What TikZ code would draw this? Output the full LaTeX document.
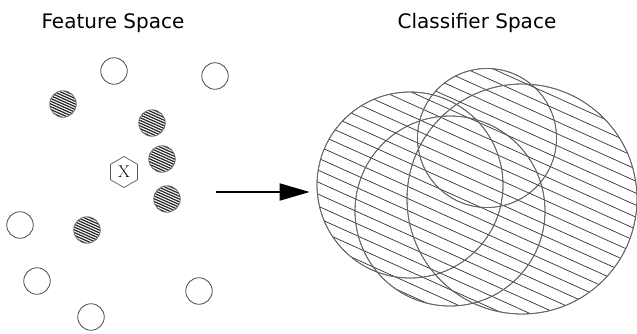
\documentclass[tikz,border=0pt]{standalone}
\usepackage{fontspec}
\setsansfont{DejaVu Sans}
\usetikzlibrary{arrows.meta,shapes.geometric}
\begin{document}
\begin{tikzpicture}[x=1pt,y=-1pt,
  title/.style={font=\sffamily\fontsize{20}{20}\selectfont, anchor=base, inner sep=0pt},
  opendot/.style={circle, draw=black!70, line width=0.8pt, minimum size=26.5pt, inner sep=0pt},
  hatchdot/.style={circle, draw=black!55, line width=0.8pt, minimum size=26.5pt, inner sep=0pt,
    path picture={\foreach \k in {-7,...,7}{
      \draw[line width=1.2pt, black!85]
        ([shift={(-20pt,\k*2.75pt+9pt)}]path picture bounding box.center) -- ++(40pt,-18pt);}}},
  bigc/.style={circle, draw=black!60, line width=0.8pt, inner sep=0pt},
  hexnode/.style={regular polygon, regular polygon sides=6, shape border rotate=30, draw=black!65, line width=0.7pt,
    minimum size=31pt, inner sep=0pt, font=\fontsize{17}{17}\selectfont},
  hatchline/.style={line width=0.7pt, black!80},
  bigarrow/.style={line width=2pt, -{Triangle[length=30pt,width=17pt]}}
]
\useasboundingbox (0,0) rectangle (637,333);

% titles
\node[title] (t1) at (113,28) {Feature Space};
\node[title] (t2) at (477,28) {Classifier Space};

% open dots
\node[opendot] (o1) at (114,71) {};
\node[opendot] (o2) at (215,76) {};
\node[opendot] (o3) at (20,225) {};
\node[opendot] (o4) at (37,281) {};
\node[opendot] (o5) at (91,317) {};
\node[opendot] (o6) at (199,291) {};

% hatched dots
\node[hatchdot] (h1) at (63,104) {};
\node[hatchdot] (h2) at (152,123) {};
\node[hatchdot] (h3) at (162,159) {};
\node[hatchdot] (h4) at (167,199) {};
\node[hatchdot] (h5) at (87,230) {};

% query point
\node[hexnode] (x) at (124,172) {X};

% big circles (classifier space)
\node[bigc, minimum size=186pt] (A) at (410,185) {};
\node[bigc, minimum size=190pt] (B) at (450,211) {};
\node[bigc, minimum size=139pt] (C) at (487,138) {};
\node[bigc, minimum size=230pt] (D) at (522,199) {};

\begin{scope}
  \clip (A.center) circle (93pt) (B.center) circle (95pt) (C.center) circle (69.5pt) (D.center) circle (115pt);
  \foreach \k in {0,...,40}{
    \draw[hatchline] (300,-30+\k*12) -- (660,-30+\k*12+162);
  }
\end{scope}
\draw[black!60, line width=0.8pt] (A.center) circle (93pt) (B.center) circle (95pt)
  (C.center) circle (69.5pt) (D.center) circle (115pt);

% arrow
\coordinate (as) at (216,192);
\draw[bigarrow, shorten >=7pt] (as) -- (as -| A.west);
\end{tikzpicture}
\end{document}
